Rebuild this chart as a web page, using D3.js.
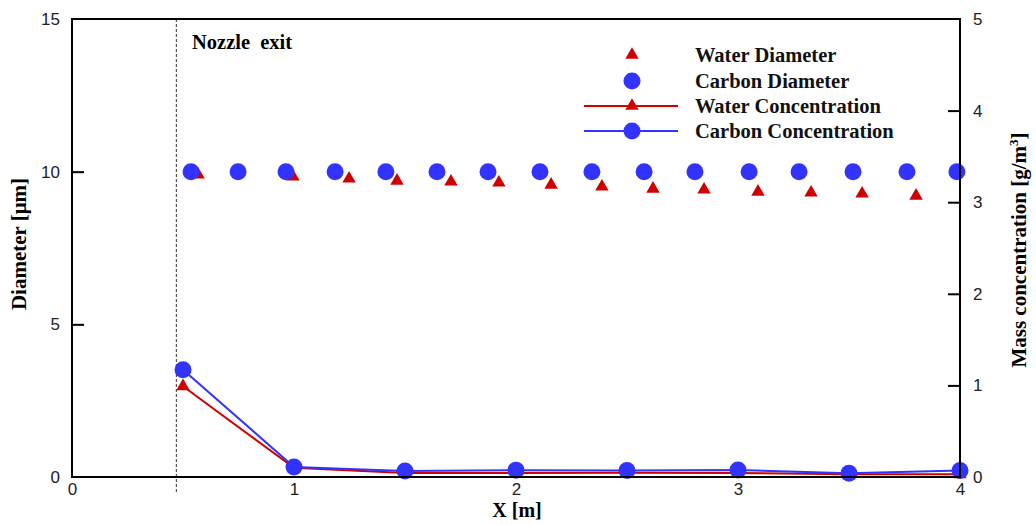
<!DOCTYPE html>
<html>
<head>
<meta charset="utf-8">
<script src="https://cdn.jsdelivr.net/npm/d3@7"></script>
<style>
  html, body { margin: 0; padding: 0; background: #fff; }
  svg { display: block; }
</style>
</head>
<body>
<svg id="chart" width="1036" height="525"></svg>
<script>
// Droplet / particle diameter along the jet (left axis)
const waterDiamX = [0.568, 0.995, 1.248, 1.464, 1.707, 1.923, 2.158, 2.387, 2.617, 2.847, 3.090, 3.329, 3.559, 3.802];
const waterDiamY = [9.90, 9.84, 9.77, 9.70, 9.67, 9.64, 9.57, 9.51, 9.44, 9.41, 9.34, 9.31, 9.28, 9.21];
const carbonDiamX = [0.536, 0.748, 0.964, 1.185, 1.414, 1.644, 1.874, 2.108, 2.342, 2.577, 2.806, 3.050, 3.275, 3.518, 3.761, 3.986];
const carbonDiamY = [10.0, 10.0, 10.0, 10.0, 10.0, 10.0, 10.0, 10.0, 10.0, 10.0, 10.0, 10.0, 10.0, 10.0, 10.0, 10.0];

// Mass concentration along the jet (right axis)
const concX = [0.5, 1.0, 1.5, 2.0, 2.5, 3.0, 3.5, 4.0];
const waterConc = [0.99, 0.10, 0.045, 0.045, 0.047, 0.045, 0.03, 0.03];
const carbonConc = [1.17, 0.11, 0.065, 0.075, 0.072, 0.076, 0.04, 0.07];

const nozzleExitX = 0.47;

const xTicks = [0, 1, 2, 3, 4];
const leftTicks = [0, 5, 10, 15];
const rightTicks = [0, 1, 2, 3, 4, 5];

const legendItems = [
  { label: "Water Diameter", marker: "triangle", line: false, color: "#d00000" },
  { label: "Carbon Diameter", marker: "circle", line: false, color: "#3333ff" },
  { label: "Water Concentration", marker: "triangle", line: true, color: "#d00000" },
  { label: "Carbon Concentration", marker: "circle", line: true, color: "#3333ff" }
];

const RED = "#d00000", BLUE = "#3333ff";
const serif = "'Liberation Serif', 'Times New Roman', serif";
const sans = "'Liberation Sans', Arial, sans-serif";

const svg = d3.select("#chart");
const plotLeft = 72, plotRight = 960, plotTop = 19, plotBottom = 477;

const x = d3.scaleLinear().domain([0, 4]).range([plotLeft, plotRight]);
const yL = d3.scaleLinear().domain([0, 15]).range([plotBottom, plotTop]);
const yR = d3.scaleLinear().domain([0, 5]).range([plotBottom, plotTop]);

const tri = d3.symbol().type(d3.symbolTriangle).size(78);
const R = 8.5;

// Nozzle exit marker
svg.append("line")
  .attr("x1", x(nozzleExitX)).attr("x2", x(nozzleExitX))
  .attr("y1", plotTop).attr("y2", 492)
  .attr("stroke", "#333").attr("stroke-width", 1)
  .attr("stroke-dasharray", "3,2");
svg.append("text")
  .attr("x", 192).attr("y", 49)
  .attr("font-family", serif).attr("font-weight", "bold").attr("font-size", 20.5)
  .attr("word-spacing", 5)
  .attr("fill", "#000")
  .text("Nozzle exit");

// Diameter markers
svg.append("g").selectAll("path")
  .data(waterDiamX.map((d, i) => [d, waterDiamY[i]]))
  .join("path")
  .attr("d", tri)
  .attr("transform", d => `translate(${x(d[0])},${yL(d[1])})`)
  .attr("fill", RED);
svg.append("g").selectAll("circle")
  .data(carbonDiamX.map((d, i) => [d, carbonDiamY[i]]))
  .join("circle")
  .attr("cx", d => x(d[0])).attr("cy", d => yL(d[1]))
  .attr("r", R).attr("fill", BLUE);

// Concentration lines
const line = d3.line().x(d => x(d[0])).y(d => yR(d[1]));
const wc = concX.map((d, i) => [d, waterConc[i]]);
const cc = concX.map((d, i) => [d, carbonConc[i]]);
svg.append("path").datum(wc).attr("d", line)
  .attr("fill", "none").attr("stroke", RED).attr("stroke-width", 2);
svg.append("g").selectAll("path").data(wc).join("path")
  .attr("d", tri)
  .attr("transform", d => `translate(${x(d[0])},${yR(d[1])})`)
  .attr("fill", RED);
svg.append("path").datum(cc).attr("d", line)
  .attr("fill", "none").attr("stroke", BLUE).attr("stroke-width", 2);
svg.append("g").selectAll("circle").data(cc).join("circle")
  .attr("cx", d => x(d[0])).attr("cy", d => yR(d[1]))
  .attr("r", R).attr("fill", BLUE);

// Axes frame
svg.append("rect")
  .attr("x", plotLeft).attr("y", plotTop)
  .attr("width", plotRight - plotLeft).attr("height", plotBottom - plotTop)
  .attr("fill", "none").attr("stroke", "#000").attr("stroke-width", 2);

const axL = d3.axisLeft(yL).tickValues(leftTicks).tickSizeInner(-12).tickSizeOuter(0).tickPadding(24).tickFormat(d3.format("d"));
const gL = svg.append("g").attr("transform", `translate(${plotLeft},0)`).call(axL);
const axR = d3.axisRight(yR).tickValues(rightTicks).tickSizeInner(-12).tickSizeOuter(0).tickPadding(25).tickFormat(d3.format("d"));
const gR = svg.append("g").attr("transform", `translate(${plotRight},0)`).call(axR);
const axB = d3.axisBottom(x).tickValues(xTicks).tickSize(0).tickPadding(6).tickFormat(d3.format("d"));
const gB = svg.append("g").attr("transform", `translate(0,${plotBottom})`).call(axB);

[gL, gR, gB].forEach(g => {
  g.select(".domain").remove();
  g.selectAll(".tick line").attr("stroke", "#000").attr("stroke-width", 2);
  g.selectAll(".tick text").attr("font-family", sans).attr("font-size", 17).attr("fill", "#222");
});
gL.selectAll(".tick").filter(d => d === 0 || d === 15).select("line").remove();
gR.selectAll(".tick").filter(d => d === 0 || d === 5).select("line").remove();
gL.selectAll(".tick text").attr("dx", 12);
gR.selectAll(".tick text").attr("dx", -12);

// Axis titles
svg.append("text")
  .attr("transform", "translate(26,244) rotate(-90)")
  .attr("text-anchor", "middle")
  .attr("font-family", serif).attr("font-weight", "bold").attr("font-size", 21)
  .text("Diameter [μm]");
svg.append("text")
  .attr("x", 517).attr("y", 517)
  .attr("text-anchor", "middle")
  .attr("font-family", serif).attr("font-weight", "bold").attr("font-size", 20)
  .text("X [m]");
const rt = svg.append("text")
  .attr("transform", "translate(1026,250) rotate(-90)")
  .attr("text-anchor", "middle")
  .attr("font-family", serif).attr("font-weight", "bold").attr("font-size", 21);
rt.append("tspan").text("Mass concentration [g/m");
rt.append("tspan").attr("font-size", 13).attr("dy", -8).text("3");
rt.append("tspan").attr("dy", 8).text("]");

// Legend
const lg = svg.append("g");
const rowY = [55, 81, 106, 131];
legendItems.forEach((it, i) => {
  const g = lg.append("g").attr("transform", `translate(0,${rowY[i]})`);
  if (it.line) {
    g.append("line").attr("x1", 584).attr("x2", 678).attr("y1", 0).attr("y2", 0)
      .attr("stroke", it.color).attr("stroke-width", 2);
  }
  if (it.marker === "triangle") {
    g.append("path").attr("d", tri).attr("transform", "translate(632,0)").attr("fill", it.color);
  } else {
    g.append("circle").attr("cx", 632).attr("cy", 0).attr("r", R).attr("fill", it.color);
  }
  g.append("text").attr("x", 695).attr("y", 7)
    .attr("font-family", serif).attr("font-weight", "bold").attr("font-size", 20.5)
    .attr("fill", "#111")
    .text(it.label);
});
</script>
</body>
</html>
